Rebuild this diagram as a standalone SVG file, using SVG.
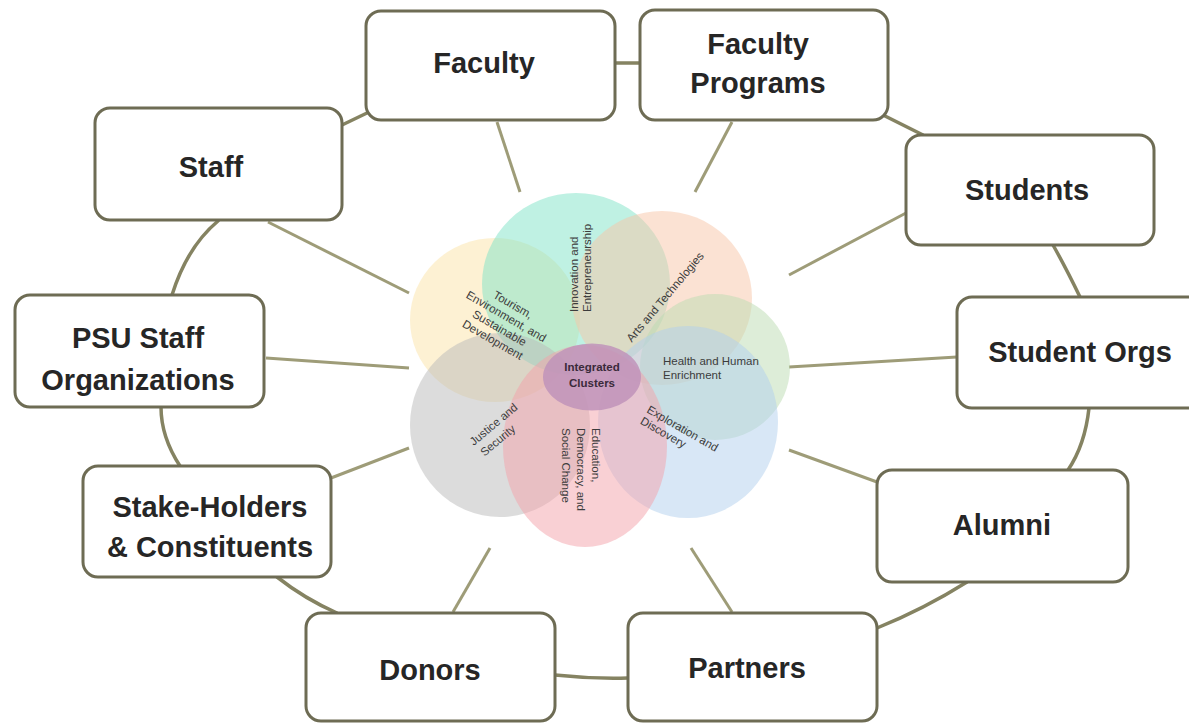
<svg xmlns="http://www.w3.org/2000/svg" width="1189" height="723" viewBox="0 0 1189 723">
<style>
.box{fill:#ffffff;stroke:#6e6c54;stroke-width:3}
.lbl{font-family:"Liberation Sans",Arial,sans-serif;font-weight:bold;font-size:29px;fill:#262626;text-anchor:middle}
.ring{fill:none;stroke:#858362;stroke-width:3.5;stroke-linecap:round}
.spoke{fill:none;stroke:#9e9c78;stroke-width:3;stroke-linecap:butt}
.pt{font-family:"Liberation Sans",Arial,sans-serif;font-size:11.5px;fill:#3c3c3c}
.petal{opacity:0.5}
</style>
<rect width="1189" height="723" fill="#ffffff"/>
<g id="connectors">
<path class="ring" d="M615,63 L640,63"/>
<path class="ring" d="M342,125 L367,113"/>
<path class="ring" d="M885,116 L923,135"/>
<path class="ring" d="M218,221 Q187,247 172,295"/>
<path class="ring" d="M1053,245 Q1066,268 1080,297"/>
<path class="ring" d="M161,407 Q161,437 180,466"/>
<path class="ring" d="M1089,408 Q1085,445 1068,470"/>
<path class="ring" d="M277,577 Q305,599 337,613"/>
<path class="ring" d="M967,582 Q924,609 877,628"/>
<path class="ring" d="M555,675 Q592,679 628,678"/>
<path class="spoke" d="M497,122 L520,192"/>
<path class="spoke" d="M732,122 L695,192"/>
<path class="spoke" d="M268,222 L409,293"/>
<path class="spoke" d="M906,213 L789,275"/>
<path class="spoke" d="M266,358 L409,368"/>
<path class="spoke" d="M957,357 L789,367"/>
<path class="spoke" d="M331,478 L409,448"/>
<path class="spoke" d="M877,482 L789,450"/>
<path class="spoke" d="M453,612 L490,548"/>
<path class="spoke" d="M732,612 L691,548"/>
</g>
<g id="clusters">
<ellipse class="petal" cx="495" cy="320" rx="85" ry="82" fill="#fbe4a8"/>
<ellipse class="petal" cx="576" cy="284" rx="94" ry="91" fill="#80e4c8"/>
<ellipse class="petal" cx="662" cy="298" rx="90" ry="87" fill="#f8c6a8"/>
<ellipse class="petal" cx="715" cy="367" rx="75" ry="73" fill="#bcdcb2"/>
<ellipse class="petal" cx="688" cy="422" rx="90" ry="96" fill="#b2d0ee"/>
<ellipse class="petal" cx="500" cy="425" rx="90" ry="92" fill="#bababa"/>
<ellipse class="petal" cx="585" cy="446" rx="82" ry="101" fill="#f3a2aa"/>
<ellipse cx="592" cy="377" rx="49" ry="33.5" fill="#bf93ba" opacity="0.85"/>
<text class="pt" transform="translate(578,312) rotate(-90)"><tspan x="0" y="0">Innovation and</tspan><tspan x="0" y="12.5">Entrepreneurship</tspan></text>
<text class="pt" text-anchor="middle" transform="translate(665,297) rotate(-50)"><tspan x="0" y="4">Arts and Technologies</tspan></text>
<text class="pt" text-anchor="middle" transform="translate(503,322) rotate(30)"><tspan x="0" y="-16">Tourism,</tspan><tspan x="0" y="-2.5">Environment, and</tspan><tspan x="0" y="11">Sustainable</tspan><tspan x="0" y="24.5">Development</tspan></text>
<text class="pt"><tspan x="663" y="365">Health and Human</tspan><tspan x="663" y="379">Enrichment</tspan></text>
<text class="pt" transform="translate(646,412) rotate(30)"><tspan x="0" y="0">Exploration and</tspan><tspan x="0" y="13">Discovery</tspan></text>
<text class="pt" transform="translate(592,428) rotate(90)"><tspan x="0" y="0">Education,</tspan><tspan x="0" y="15">Democracy, and</tspan><tspan x="0" y="30">Social Change</tspan></text>
<text class="pt" text-anchor="middle" transform="translate(496,432) rotate(-40)"><tspan x="3" y="-3.5">Justice and</tspan><tspan x="-4" y="11.5">Security</tspan></text>
<text font-family="Liberation Sans,Arial,sans-serif" font-weight="bold" font-size="11.5" fill="#3a2a3a" text-anchor="middle"><tspan x="592" y="371">Integrated</tspan><tspan x="592" y="387">Clusters</tspan></text>
</g>
<g id="faculty"><rect class="box" x="366" y="11" width="249" height="109" rx="15"/><text class="lbl" x="484" y="73">Faculty</text></g>
<g id="faculty-programs"><rect class="box" x="640" y="10" width="248" height="110" rx="15"/><text class="lbl"><tspan x="758" y="54">Faculty</tspan><tspan x="758" y="93">Programs</tspan></text></g>
<g id="staff"><rect class="box" x="95" y="108" width="247" height="112" rx="15"/><text class="lbl" x="211" y="177">Staff</text></g>
<g id="students"><rect class="box" x="906" y="135" width="248" height="110" rx="15"/><text class="lbl" x="1027" y="200">Students</text></g>
<g id="psu-staff-orgs"><rect class="box" x="15" y="295" width="249" height="112" rx="15"/><text class="lbl"><tspan x="138" y="348">PSU Staff</tspan><tspan x="138" y="390">Organizations</tspan></text></g>
<g id="student-orgs"><rect class="box" x="957" y="297" width="250" height="111" rx="15"/><text class="lbl" x="1080" y="362">Student Orgs</text></g>
<g id="stakeholders"><rect class="box" x="83" y="466" width="248" height="111" rx="15"/><text class="lbl"><tspan x="210" y="517">Stake-Holders</tspan><tspan x="210" y="557">&amp; Constituents</tspan></text></g>
<g id="alumni"><rect class="box" x="877" y="470" width="251" height="112" rx="15"/><text class="lbl" x="1002" y="535">Alumni</text></g>
<g id="donors"><rect class="box" x="306" y="613" width="249" height="108" rx="15"/><text class="lbl" x="430" y="680">Donors</text></g>
<g id="partners"><rect class="box" x="628" y="613" width="249" height="108" rx="15"/><text class="lbl" x="747" y="678">Partners</text></g>
</svg>
